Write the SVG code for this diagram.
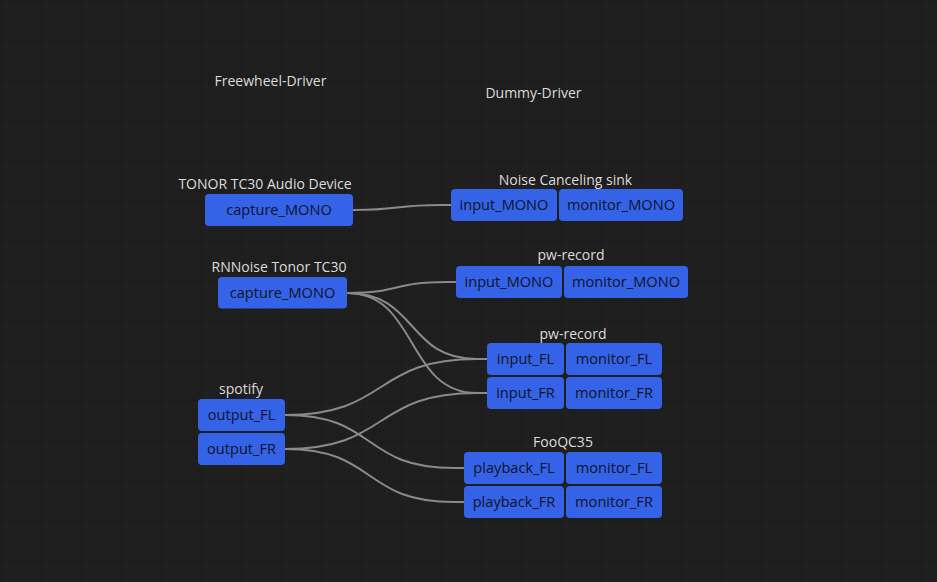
<svg xmlns="http://www.w3.org/2000/svg" width="937" height="582" viewBox="0 0 937 582">
<style>
.lbl{font-family:"Open Sans","Noto Sans","Liberation Sans",sans-serif;font-size:14px;fill:#dcdcdc;text-anchor:middle}
.port{fill:#3463e8}
.pt{font-family:"Open Sans","Noto Sans","Liberation Sans",sans-serif;font-size:14.6px;fill:#111326;text-anchor:middle}
.wire{fill:none;stroke:#8a8a8a;stroke-width:2}
</style>
<defs>
<pattern id="grid" x="6.5" y="6.5" width="20" height="20" patternUnits="userSpaceOnUse">
<path d="M0 0V20M0 0H20" fill="none" stroke="#262626" stroke-width="1"/>
</pattern>
</defs>
<rect width="937" height="582" fill="#1e1e1e"/>
<rect width="937" height="582" fill="url(#grid)"/>

<g id="connectors">
<path class="wire" d="M353 210C401.4 210 392.6 205 441 205L451 205"/>
<path class="wire" d="M347 293C401.5 293 391.5 282 446 282L456 282"/>
<path class="wire" d="M347 293C418.5 293 405.5 359 477 359L487 359"/>
<path class="wire" d="M347 293C418.5 293 405.5 393 477 393L487 393"/>
<path class="wire" d="M285 415C390.6 415 371.4 359 477 359L487 359"/>
<path class="wire" d="M285 449C390.6 449 371.4 393 477 393L487 393"/>
<path class="wire" d="M285 415C378 415 361 468 454 468L464 468"/>
<path class="wire" d="M285 449C378 449 361 502 454 502L464 502"/>
</g>

<g id="freewheel-driver">
<text class="lbl" x="270.5" y="86">Freewheel-Driver</text>
</g>
<g id="dummy-driver">
<text class="lbl" x="533.5" y="98">Dummy-Driver</text>
</g>

<g id="tonor">
<text class="lbl" x="265" y="189">TONOR TC30 Audio Device</text>
<rect class="port" x="205" y="194" width="148" height="32" rx="4"/>
<text class="pt" x="279" y="215">capture_MONO</text>
</g>

<g id="rnnoise">
<text class="lbl" x="279" y="272">RNNoise Tonor TC30</text>
<rect class="port" x="218" y="277" width="129" height="31.5" rx="4"/>
<text class="pt" x="282.5" y="298">capture_MONO</text>
</g>

<g id="noise-canceling-sink">
<text class="lbl" x="565.5" y="185">Noise Canceling sink</text>
<rect class="port" x="451" y="189" width="106" height="32" rx="4"/>
<text class="pt" x="504" y="210">input_MONO</text>
<rect class="port" x="559" y="189" width="124" height="32" rx="4"/>
<text class="pt" x="621" y="210">monitor_MONO</text>
</g>

<g id="pw-record-mono">
<text class="lbl" x="571" y="260">pw-record</text>
<rect class="port" x="456" y="266" width="106" height="32" rx="4"/>
<text class="pt" x="509" y="287">input_MONO</text>
<rect class="port" x="564" y="266" width="124" height="32" rx="4"/>
<text class="pt" x="626" y="287">monitor_MONO</text>
</g>

<g id="pw-record-stereo">
<text class="lbl" x="573" y="339">pw-record</text>
<rect class="port" x="487" y="343" width="77" height="32" rx="4"/>
<text class="pt" x="525.5" y="364">input_FL</text>
<rect class="port" x="566" y="343" width="96" height="32" rx="4"/>
<text class="pt" x="614" y="364">monitor_FL</text>
<rect class="port" x="487" y="377" width="77" height="32" rx="4"/>
<text class="pt" x="525.5" y="398">input_FR</text>
<rect class="port" x="566" y="377" width="96" height="32" rx="4"/>
<text class="pt" x="614" y="398">monitor_FR</text>
</g>

<g id="spotify">
<text class="lbl" x="241" y="394">spotify</text>
<rect class="port" x="198" y="399" width="87" height="32" rx="4"/>
<text class="pt" x="241.5" y="420">output_FL</text>
<rect class="port" x="198" y="433" width="87" height="32" rx="4"/>
<text class="pt" x="241.5" y="454">output_FR</text>
</g>

<g id="fooqc35">
<text class="lbl" x="563" y="447">FooQC35</text>
<rect class="port" x="464" y="452" width="100" height="32" rx="4"/>
<text class="pt" x="514" y="473">playback_FL</text>
<rect class="port" x="566" y="452" width="96" height="32" rx="4"/>
<text class="pt" x="614" y="473">monitor_FL</text>
<rect class="port" x="464" y="486" width="100" height="32" rx="4"/>
<text class="pt" x="514" y="507">playback_FR</text>
<rect class="port" x="566" y="486" width="96" height="32" rx="4"/>
<text class="pt" x="614" y="507">monitor_FR</text>
</g>
</svg>
